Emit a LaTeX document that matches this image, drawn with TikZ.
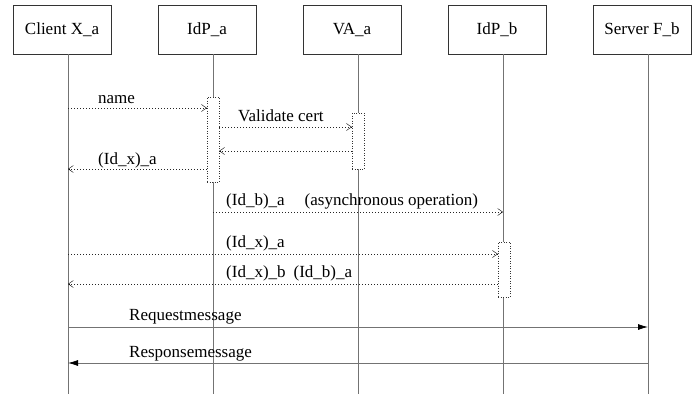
\documentclass[tikz,border=0pt]{standalone}
\usepackage{fontspec}
\setmainfont{Liberation Serif}
\usetikzlibrary{positioning,arrows.meta,calc}
\tikzset{head/.style={draw=black!80, thick, minimum width=98pt, minimum height=49pt, inner sep=0pt, font=\fontsize{17}{20}\selectfont},
	life/.style={draw=black!55, thick}
}

\begin{document}
\begin{tikzpicture}[x=1pt,y=-1pt]
\tikzstyle{act} = [draw=black!80, fill=white, dash pattern=on 1pt off 1.5pt, minimum width=12pt, inner sep=0pt]
\tikzstyle{msg} = [draw=black!85, dash pattern=on 1pt off 2pt, -{Straight Barb[length=5pt,width=7pt,color=black]}]
\tikzstyle{sync} = [draw=black!55, thick, -{Latex[length=10pt,width=6pt,color=black]}]
\tikzstyle{lbl} = [anchor=base west, inner sep=0pt, font=\fontsize{17}{20}\selectfont]

\useasboundingbox (0,0) rectangle (699,394);

% heads
\node [head] (client) at (62,29.5) {Client X\_a};
\node [head, right=46.2pt of client] (idpa) {IdP\_a};
\node [head, right=46.2pt of idpa] (vaa) {VA\_a};
\node [head, right=46.2pt of vaa] (idpb) {IdP\_b};
\node [head, right=46.2pt of idpb] (server) {Server F\_b};

% lifelines
\foreach \n in {client,idpa,vaa,idpb,server}{
	\coordinate (\n-l) at ([xshift=6pt]\n.south);
	\coordinate (\n-e) at ([xshift=6pt]\n.south |- 0,394);
	\draw[life] (\n-l) -- (\n-e);
}

% activations
\node [act, minimum height=85pt] (actA) at (213,139.5) {};
\node [act, minimum height=56pt] (actV) at (358,141) {};
\node [act, minimum height=55pt] (actB) at (504,269.5) {};

%message heights
\coordinate (y1) at (0,108);
\coordinate (y2) at (0,127);
\coordinate (y3) at (0,151);
\coordinate (y4) at (0,169);
\coordinate (y5) at (0,212);
\coordinate (y6) at (0,254);
\coordinate (y7) at (0,284);
\coordinate (y8) at (0,327);
\coordinate (y9) at (0,363);

%Lines
\draw[msg] (client-l |- y1) -- (actA.west |- y1);
\draw[msg] (actA.east |- y2) -- (actV.west |- y2);
\draw[msg] (actV.west |- y3) -- (actA.east |- y3);
\draw[msg] (actA.west |- y4) -- (client-l |- y4);
\draw[msg] (idpa-l |- y5) -- (idpb-l |- y5);
\draw[msg] (client-l |- y6) -- (actB.west |- y6);
\draw[msg] (actB.west |- y7) -- (client-l |- y7);
\draw[sync] (client-l |- y8) -- (server-l |- y8);
\draw[sync] (server-l |- y9) -- (client-l |- y9);

%labels
\node [lbl] (l1) at (98,103) {name};
\node [lbl] (l2) at (238,121) {Validate cert};
\node [lbl] (l4) at (98,164) {(Id\_x)\_a};
\node [lbl] (l5) at (226,205) {(Id\_b)\_a\hspace{20pt}(asynchronous operation)};
\node [lbl] (l6) at (226,247) {(Id\_x)\_a};
\node [lbl] (l7) at (226,277) {(Id\_x)\_b\hspace{8pt}(Id\_b)\_a};
\node [lbl] (l8) at (129,320) {Requestmessage};
\node [lbl] (l9) at (129,357) {Responsemessage};
\end{tikzpicture}
\end{document}
